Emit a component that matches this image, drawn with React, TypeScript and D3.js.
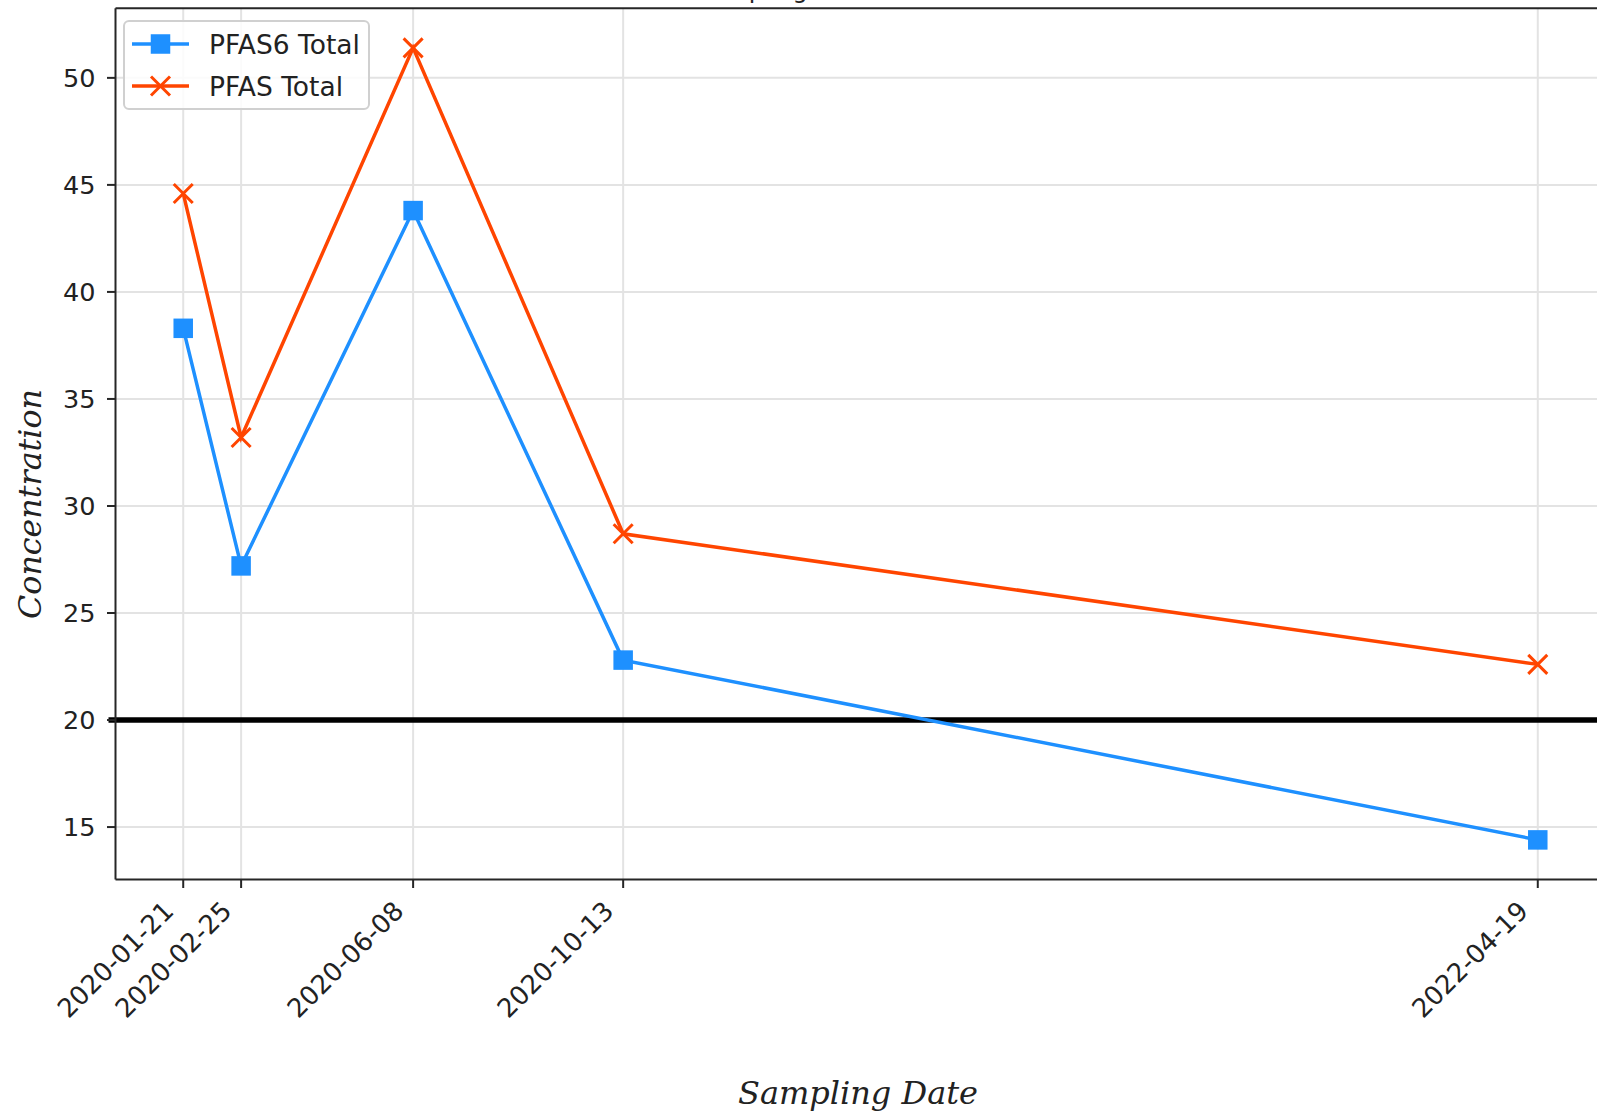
import React from "react";
import * as d3 from "d3";

const dates = ["2020-01-21", "2020-02-25", "2020-06-08", "2020-10-13", "2022-04-19"];
const pfas6Total = [38.3, 27.2, 43.8, 22.8, 14.4];
const pfasTotal = [44.6, 33.2, 51.4, 28.7, 22.6];
const yTicks = [15, 20, 25, 30, 35, 40, 45, 50];
const threshold = 20;
const seriesNames = ["PFAS6 Total", "PFAS Total"];
const titleText = "PFAS Sampling Results";
const xLabel = "Sampling Date";
const yLabel = "Concentration";

const W = 1597;
const H = 1115;
const plotLeft = 115.5;
const plotRight = 1605.5;
const plotTop = 8.3;
const plotBottom = 879.5;

const BLUE = "#1e90ff";
const RED = "#ff4500";
const GRID = "#e3e3e3";
const SPINE = "#262626";
const TICKFONT = "'DejaVu Sans', sans-serif";
const LABELFONT = "'DejaVu Serif', serif";

export default function App() {
  const parse = d3.utcParse("%Y-%m-%d");
  const xs = dates.map((d) => parse(d) as Date);
  const [x0, x1] = d3.extent(xs) as [Date, Date];
  const xpad = (x1.getTime() - x0.getTime()) * 0.05;
  const x = d3
    .scaleUtc()
    .domain([new Date(x0.getTime() - xpad), new Date(x1.getTime() + xpad)])
    .range([plotLeft, plotRight]);

  const all = [...pfas6Total, ...pfasTotal];
  const ymin = d3.min(all) as number;
  const ymax = d3.max(all) as number;
  const ypad = (ymax - ymin) * 0.05;
  const y = d3.scaleLinear().domain([ymin - ypad, ymax + ypad]).range([plotBottom, plotTop]);

  const line = d3
    .line<number>()
    .x((_, i) => x(xs[i]))
    .y((v) => y(v));

  const sq = 19.5;
  const xm = 9.5;

  const xMarker = (cx: number, cy: number, key: string | number) => (
    <path
      key={key}
      d={`M${cx - xm},${cy - xm}L${cx + xm},${cy + xm}M${cx - xm},${cy + xm}L${cx + xm},${cy - xm}`}
      stroke={RED}
      strokeWidth={3}
      fill="none"
    />
  );
  const sqMarker = (cx: number, cy: number, key: string | number) => (
    <rect key={key} x={cx - sq / 2} y={cy - sq / 2} width={sq} height={sq} fill={BLUE} />
  );

  return (
    <svg
      width={W}
      height={H}
      style={{ position: "absolute", left: 0, top: 0, background: "#fff" }}
    >
      <rect x={0} y={0} width={W} height={H} fill="#fff" />
      <defs>
        <clipPath id="plotclip">
          <rect x={plotLeft} y={plotTop} width={plotRight - plotLeft} height={plotBottom - plotTop} />
        </clipPath>
      </defs>

      {/* title, mostly cropped off as in the reference */}
      <text x={630} y={-2.5} fontFamily={TICKFONT} fontSize={24} fill="#222">
        {titleText}
      </text>

      {/* grid */}
      <g>
        {yTicks.map((t) => (
          <line key={"gy" + t} x1={plotLeft} x2={plotRight} y1={y(t)} y2={y(t)} stroke={GRID} strokeWidth={2} />
        ))}
        {xs.map((d, i) => (
          <line key={"gx" + i} x1={x(d)} x2={x(d)} y1={plotTop} y2={plotBottom} stroke={GRID} strokeWidth={2} />
        ))}
      </g>

      {/* threshold line */}
      <line x1={108.5} x2={W} y1={y(threshold)} y2={y(threshold)} stroke="#000" strokeWidth={5.5} />

      {/* series */}
      <g clipPath="url(#plotclip)">
        <path d={line(pfas6Total) || ""} fill="none" stroke={BLUE} strokeWidth={3.5} />
        <path d={line(pfasTotal) || ""} fill="none" stroke={RED} strokeWidth={3.5} />
        {pfas6Total.map((v, i) => sqMarker(x(xs[i]), y(v), "s" + i))}
        {pfasTotal.map((v, i) => xMarker(x(xs[i]), y(v), "x" + i))}
      </g>

      {/* spines */}
      <line x1={plotLeft} x2={plotLeft} y1={plotTop} y2={plotBottom} stroke={SPINE} strokeWidth={2} />
      <line x1={plotLeft} x2={W} y1={plotBottom} y2={plotBottom} stroke={SPINE} strokeWidth={2} />
      <line x1={plotLeft} x2={W} y1={plotTop} y2={plotTop} stroke={SPINE} strokeWidth={2} />

      {/* y ticks */}
      {yTicks.map((t) => (
        <g key={"yt" + t}>
          <line x1={plotLeft - 8.5} x2={plotLeft} y1={y(t)} y2={y(t)} stroke={SPINE} strokeWidth={2} />
          <text
            x={plotLeft - 20}
            y={y(t)}
            textAnchor="end"
            dominantBaseline="central"
            fontFamily={TICKFONT}
            fontSize={25.5}
            fill="#222"
          >
            {t}
          </text>
        </g>
      ))}

      {/* x ticks */}
      {xs.map((d, i) => (
        <g key={"xt" + i}>
          <line x1={x(d)} x2={x(d)} y1={plotBottom} y2={plotBottom + 8.5} stroke={SPINE} strokeWidth={2} />
          <text
            transform={`translate(${x(d) - 8},${plotBottom + 33}) rotate(-45)`}
            textAnchor="end"
            fontFamily={TICKFONT}
            fontSize={26}
            fill="#222"
          >
            {dates[i]}
          </text>
        </g>
      ))}

      {/* axis labels */}
      <text
        x={858}
        y={1104}
        textAnchor="middle"
        fontFamily={LABELFONT}
        fontStyle="italic"
        fontSize={32}
        fill="#222"
      >
        {xLabel}
      </text>
      <text
        transform={`translate(41,504) rotate(-90)`}
        textAnchor="middle"
        fontFamily={LABELFONT}
        fontStyle="italic"
        fontSize={31.7}
        fill="#222"
      >
        {yLabel}
      </text>

      {/* legend */}
      <g>
        <rect x={124} y={21} width={245} height={88} rx={5} fill="#fff" fillOpacity={0.85} stroke="#d0d0d0" strokeWidth={2} />
        <line x1={132} x2={189} y1={44} y2={44} stroke={BLUE} strokeWidth={3.5} />
        {sqMarker(160.5, 44, "lg0")}
        <text x={209} y={44} dominantBaseline="central" fontFamily={TICKFONT} fontSize={26.5} fill="#222">
          {seriesNames[0]}
        </text>
        <line x1={132} x2={189} y1={86} y2={86} stroke={RED} strokeWidth={3.5} />
        {xMarker(160.5, 86, "lg1")}
        <text x={209} y={86} dominantBaseline="central" fontFamily={TICKFONT} fontSize={26.5} fill="#222">
          {seriesNames[1]}
        </text>
      </g>
    </svg>
  );
}
